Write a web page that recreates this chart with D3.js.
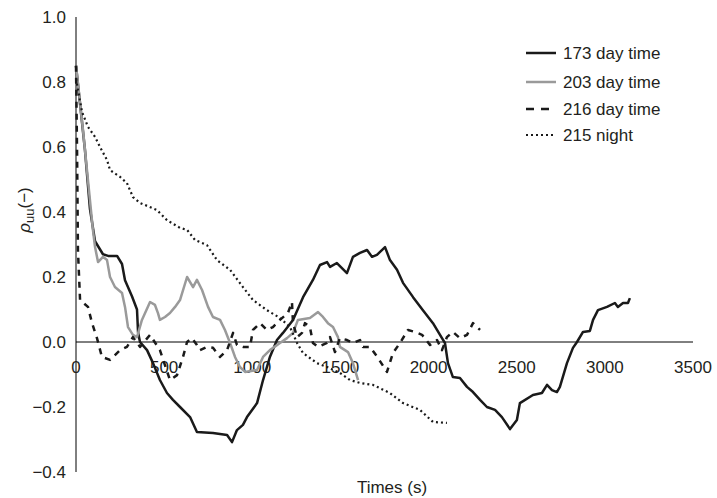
<!DOCTYPE html>
<meta charset="utf-8">
<title>Autocorrelation</title>
<style>
	body { margin: 0; background: #fff; }
	text { font-family: "Liberation Sans", Arial, sans-serif; fill: #231f20; }
	.series { fill: none; stroke-linejoin: round; }
</style>
<body>
<script src="https://d3js.org/d3.v7.min.js"></script>
<script>

var width = 717,
	height = 498;

// 173 day time (black solid)
var t173 = [0, 51, 79, 108, 153, 182, 233, 261, 278, 318, 346, 352, 363, 403, 437, 476, 516, 550, 590, 647, 686, 777, 857, 885, 913, 947, 970, 1027, 1061, 1100, 1140, 1174, 1231, 1288, 1344, 1384, 1424, 1441, 1480, 1537, 1571, 1611, 1651, 1679, 1707, 1753, 1781, 1821, 1855, 1912, 1968, 2025, 2076, 2093, 2110, 2138, 2178, 2218, 2252, 2292, 2331, 2377, 2416, 2462, 2501, 2518, 2592, 2643, 2672, 2700, 2728, 2745, 2785, 2819, 2842, 2876, 2915, 2933, 2961, 3012, 3057, 3074, 3103, 3131, 3142];
var v173 = [0.85, 0.59, 0.41, 0.31, 0.27, 0.265, 0.265, 0.24, 0.19, 0.14, 0.10, 0.03, 0.0, -0.025, -0.065, -0.117, -0.157, -0.178, -0.2, -0.231, -0.277, -0.28, -0.286, -0.308, -0.271, -0.255, -0.231, -0.188, -0.117, -0.046, 0.006, 0.028, 0.068, 0.138, 0.191, 0.237, 0.246, 0.231, 0.243, 0.212, 0.262, 0.274, 0.283, 0.262, 0.268, 0.292, 0.252, 0.222, 0.182, 0.138, 0.098, 0.058, 0.012, -0.003, -0.065, -0.108, -0.111, -0.138, -0.154, -0.178, -0.2, -0.209, -0.231, -0.268, -0.24, -0.188, -0.163, -0.157, -0.132, -0.148, -0.154, -0.138, -0.065, -0.018, 0.0, 0.031, 0.034, 0.068, 0.098, 0.108, 0.12, 0.108, 0.12, 0.12, 0.135];

// 203 day time (grey solid)
var t203 = [0, 40, 96, 108, 125, 153, 176, 193, 221, 261, 278, 295, 323, 346, 374, 420, 448, 465, 476, 505, 533, 562, 590, 630, 664, 686, 715, 749, 777, 817, 845, 874, 902, 930, 959, 1027, 1061, 1100, 1157, 1197, 1231, 1259, 1327, 1373, 1401, 1429, 1458, 1486, 1497, 1543, 1571, 1600];
var v203 = [0.85, 0.65, 0.345, 0.292, 0.246, 0.262, 0.252, 0.2, 0.169, 0.151, 0.108, 0.046, 0.022, 0.015, 0.068, 0.123, 0.114, 0.089, 0.068, 0.077, 0.089, 0.108, 0.129, 0.2, 0.169, 0.191, 0.16, 0.108, 0.077, 0.068, 0.037, -0.003, -0.046, -0.077, -0.092, -0.086, -0.046, -0.025, -0.003, 0.012, 0.028, 0.068, 0.074, 0.092, 0.077, 0.058, 0.046, 0.015, -0.015, -0.031, -0.065, -0.117];

// 216 day time (dashed)
var t216 = [0, 6, 11, 23, 68, 91, 119, 147, 193, 250, 289, 323, 363, 420, 476, 533, 573, 607, 630, 658, 686, 703, 743, 777, 817, 857, 891, 913, 947, 987, 1004, 1044, 1083, 1117, 1157, 1202, 1225, 1231, 1254, 1282, 1299, 1327, 1344, 1373, 1424, 1441, 1469, 1497, 1537, 1571, 1611, 1628, 1668, 1713, 1764, 1798, 1838, 1883, 1923, 1963, 2008, 2048, 2076, 2104, 2138, 2178, 2218, 2252, 2292];
var v216 = [0.85, 0.59, 0.283, 0.129, 0.108, 0.058, 0.012, -0.046, -0.055, -0.025, -0.015, 0.015, -0.015, 0.022, -0.025, -0.117, -0.102, -0.046, 0.0, 0.012, -0.009, -0.025, -0.015, -0.018, -0.046, -0.025, 0.028, -0.009, -0.015, -0.015, 0.037, 0.058, 0.037, 0.046, 0.068, 0.089, 0.123, 0.058, 0.015, 0.028, 0.058, 0.046, -0.003, -0.015, -0.003, 0.015, -0.031, 0.012, 0.006, -0.003, 0.006, -0.015, -0.015, -0.049, -0.092, -0.034, -0.003, 0.037, 0.031, 0.022, -0.009, 0.006, -0.025, 0.015, 0.031, 0.012, 0.022, 0.058, 0.037];

// 215 night (dotted)
var t215 = [0, 34, 68, 108, 136, 176, 193, 250, 289, 323, 363, 459, 516, 590, 630, 675, 743, 800, 874, 947, 1004, 1083, 1157, 1214, 1254, 1288, 1367, 1424, 1497, 1554, 1611, 1685, 1781, 1855, 1951, 2025, 2104];
var v215 = [0.81, 0.708, 0.662, 0.631, 0.6, 0.56, 0.529, 0.508, 0.489, 0.446, 0.428, 0.406, 0.375, 0.351, 0.345, 0.314, 0.298, 0.252, 0.222, 0.169, 0.129, 0.098, 0.074, 0.046, -0.003, -0.034, -0.065, -0.077, -0.095, -0.117, -0.126, -0.132, -0.157, -0.188, -0.209, -0.246, -0.249];

var seriesNames = ["173 day time", "203 day time", "216 day time", "215 night"];
var xTicks = [0, 500, 1000, 1500, 2000, 2500, 3000, 3500];
var yTicks = [-0.4, -0.2, 0.0, 0.2, 0.4, 0.6, 0.8, 1.0];

var styles = [
	{ color: "#1a1a1a", width: 2.5, dash: null },
	{ color: "#9a9a9a", width: 2.5, dash: null },
	{ color: "#1a1a1a", width: 2.5, dash: "6,6" },
	{ color: "#1a1a1a", width: 2.2, dash: "2,3" }
];

var series = [
	d3.zip(t173, v173),
	d3.zip(t203, v203),
	d3.zip(t216, v216),
	d3.zip(t215, v215)
];

var x = d3.scaleLinear().domain([0, 3500]).range([76, 693]);
var y = d3.scaleLinear().domain([-0.4, 1.0]).range([472, 17]);

var svg = d3.select("body").append("svg")
	.attr("width", width)
	.attr("height", height);

// axis lines, no tick marks
svg.append("line")
	.attr("x1", x(0)).attr("x2", x(3500))
	.attr("y1", y(0)).attr("y2", y(0))
	.attr("stroke", "#000");
svg.append("line")
	.attr("x1", x(0)).attr("x2", x(0))
	.attr("y1", y(1.0)).attr("y2", y(-0.4))
	.attr("stroke", "#000");

svg.selectAll(".xt").data(xTicks).enter().append("text")
	.attr("class", "xt")
	.attr("x", function(d) { return x(d); })
	.attr("y", y(0) + 31)
	.attr("text-anchor", "middle")
	.style("font-size", "17px")
	.text(function(d) { return d; });

svg.selectAll(".yt").data(yTicks).enter().append("text")
	.attr("class", "yt")
	.attr("x", 66)
	.attr("y", function(d) { return y(d) + 6; })
	.attr("text-anchor", "end")
	.style("font-size", "17px")
	.text(function(d) { return (d < 0 ? "\u2212" : "") + Math.abs(d).toFixed(1); });

svg.append("text")
	.attr("x", 392).attr("y", 493)
	.attr("text-anchor", "middle")
	.style("font-size", "17px")
	.text("Times (s)");

var yt = svg.append("text")
	.attr("transform", "translate(30,210) rotate(-90)")
	.attr("text-anchor", "middle")
	.style("font-size", "17px");
yt.append("tspan").style("font-style", "italic").text("\u03c1");
yt.append("tspan").attr("dy", 4).style("font-size", "13px").text("uu");
yt.append("tspan").attr("dy", -4).text("(\u2212)");

var line = d3.line()
	.x(function(d) { return x(d[0]); })
	.y(function(d) { return y(d[1]); });

svg.selectAll(".series").data(series).enter().append("path")
	.attr("class", "series")
	.attr("d", line)
	.attr("stroke", function(d, i) { return styles[i].color; })
	.attr("stroke-width", function(d, i) { return styles[i].width; })
	.attr("stroke-dasharray", function(d, i) { return styles[i].dash; });

// legend
var legendY = [53, 82, 109, 135];
var lg = svg.selectAll(".lg").data(seriesNames).enter().append("g")
	.attr("class", "lg")
	.attr("transform", function(d, i) { return "translate(526," + legendY[i] + ")"; });
lg.append("line")
	.attr("x1", 0).attr("x2", 30)
	.attr("stroke", function(d, i) { return styles[i].color; })
	.attr("stroke-width", function(d, i) { return styles[i].width; })
	.attr("stroke-dasharray", function(d, i) { return i == 2 ? "8,7" : styles[i].dash; });
lg.append("text")
	.attr("x", 37).attr("y", 6)
	.style("font-size", "17px")
	.text(function(d) { return d; });

</script>
